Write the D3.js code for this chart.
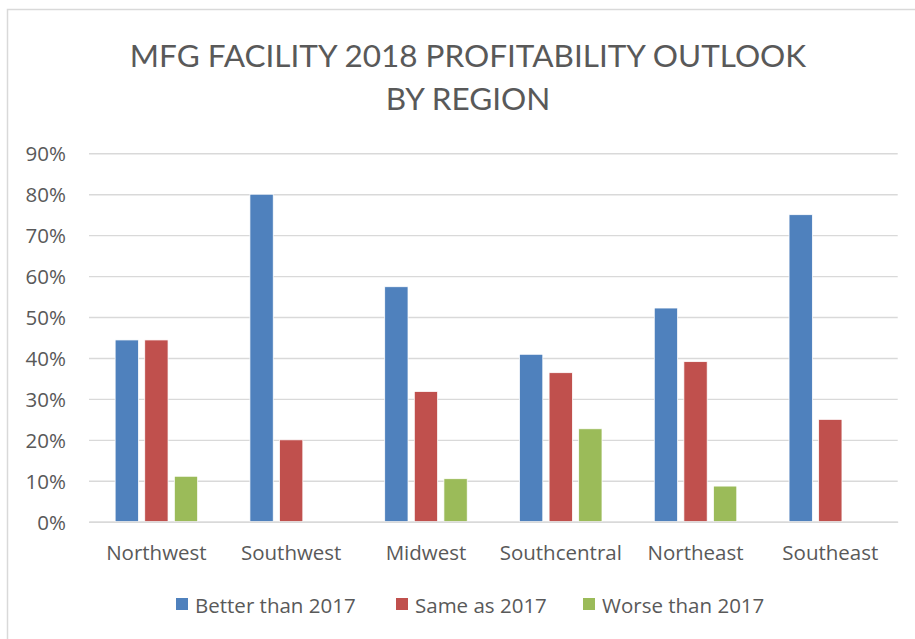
<!DOCTYPE html>
<html lang="en">
<head>
<meta charset="UTF-8">
<title>MFG Facility 2018 Profitability Outlook</title>
<script src="https://d3js.org/d3.v7.min.js"></script>
<style>
html, body { margin: 0; padding: 0; background: #fff; }
svg { display: block; }
text { font-family: "Open Sans", Lato, sans-serif; fill: #595959; }
.title { font-family: Lato, "Open Sans", sans-serif; }
</style>
</head>
<body>
<script>
const regions = ['Northwest', 'Southwest', 'Midwest', 'Southcentral', 'Northeast', 'Southeast'];
const seriesNames = ['Better than 2017', 'Same as 2017', 'Worse than 2017'];
const better = [0.444, 0.80, 0.574, 0.409, 0.522, 0.75];
const same = [0.444, 0.20, 0.318, 0.364, 0.391, 0.25];
const worse = [0.111, 0, 0.105, 0.227, 0.087, 0];
const yTicks = [0, 0.1, 0.2, 0.3, 0.4, 0.5, 0.6, 0.7, 0.8, 0.9];
const colors = ['#4f81bd', '#c0504d', '#9bbb59'];

const w = 915, h = 639;
const svg = d3.select('body').append('svg').attr('width', w).attr('height', h);

// chart frame (only top and left edges are in view)
svg.append('rect').attr('x', 7.5).attr('y', 9.5).attr('width', 920).attr('height', 650)
    .attr('fill', 'none').attr('stroke', '#d9d9d9').attr('stroke-width', 1.5);

const x = d3.scaleBand().domain(regions).range([89, 897.7]);
const x1 = d3.scaleBand().domain(seriesNames).range([0, 82.5]).paddingInner(0.213);
const y = d3.scaleLinear().domain([0, 0.9]).range([521.7, 153.3]);

// gridlines + y labels
const yAxis = d3.axisLeft(y).tickValues(yTicks).tickFormat(d3.format('.0%'))
    .tickSize(-(897.7 - 89)).tickPadding(23);
const gy = svg.append('g').attr('transform', 'translate(89,0)').call(yAxis);
gy.select('.domain').remove();
gy.selectAll('.tick line').attr('stroke', '#d9d9d9').attr('stroke-width', 1.4);
gy.selectAll('.tick text').style('font-size', '20.5px').attr('fill', '#595959').attr('dy', '0.36em');

// bars
const data = regions.map((r, i) => ({ region: r, vals: [better[i], same[i], worse[i]] }));
const groups = svg.selectAll('g.grp').data(data).join('g').attr('class', 'grp')
    .attr('transform', d => 'translate(' + (x(d.region) + x.bandwidth() / 2 - 41.25) + ',0)');
groups.selectAll('rect').data(d => d.vals.map((v, j) => ({ v: v, s: seriesNames[j], c: colors[j] })))
    .join('rect')
    .attr('x', d => x1(d.s))
    .attr('width', x1.bandwidth())
    .attr('y', d => y(d.v))
    .attr('height', d => y(0) - y(d.v))
    .attr('fill', d => d.c)
    .attr('stroke', '#fff').attr('stroke-width', 0.75)
    .style('display', d => d.v > 0 ? null : 'none');

// x axis
const xAxis = d3.axisBottom(x).tickSize(0).tickPadding(24);
const gx = svg.append('g').attr('transform', 'translate(0,' + y(0) + ')').call(xAxis);
gx.select('.domain').attr('stroke', '#d9d9d9').attr('stroke-width', 1.4);
gx.selectAll('.tick text').style('font-size', '20.5px').attr('fill', '#595959');

// title
svg.append('text').attr('class', 'title').attr('x', 468).attr('y', 67).attr('text-anchor', 'middle')
    .style('font-size', '31.5px').text('MFG FACILITY 2018 PROFITABILITY OUTLOOK');
svg.append('text').attr('class', 'title').attr('x', 468).attr('y', 110).attr('text-anchor', 'middle')
    .style('font-size', '31.5px').text('BY REGION');

// legend
const legendX = [176, 396, 583];
const lg = svg.append('g').selectAll('g').data(seriesNames).join('g')
    .attr('transform', (d, i) => 'translate(' + legendX[i] + ',598)');
lg.append('rect').attr('width', 12).attr('height', 12).attr('fill', (d, i) => colors[i]);
lg.append('text').attr('x', 19).attr('y', 15).style('font-size', '20.5px').text(d => d);
</script>
</body>
</html>
